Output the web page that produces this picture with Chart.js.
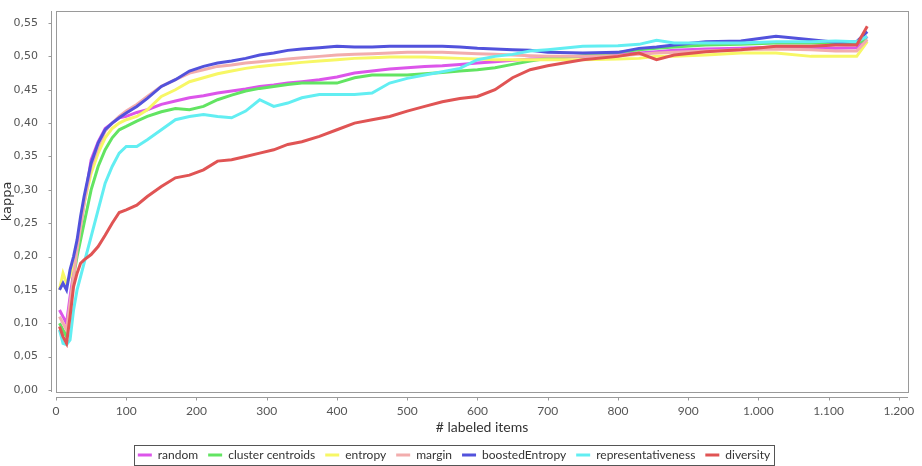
<!DOCTYPE html>
<html>
<head>
<meta charset="utf-8">
<script src="https://cdn.jsdelivr.net/npm/chart.js@4.4.1/dist/chart.umd.min.js"></script>
<style>
  html, body { margin: 0; padding: 0; background: #fff; }
</style>
</head>
<body>
<canvas id="chart" width="922" height="466"></canvas>
<script>
// x positions (# labeled items) shared by all series
const labeledItems = [5, 10, 15, 20, 25, 30, 35, 40, 50, 60, 70, 80, 90, 100, 115, 130, 150, 170, 190, 210,
  230, 250, 270, 290, 310, 330, 350, 375, 400, 425, 450, 475, 500, 525, 550, 575, 600, 625, 650, 675,
  700, 750, 800, 830, 855, 880, 925, 975, 1025, 1075, 1110, 1140, 1155];

const random = [0.12, 0.11, 0.10, 0.14, 0.176, 0.21, 0.245, 0.28, 0.345, 0.372, 0.392, 0.40, 0.408, 0.41, 0.416, 0.42, 0.428, 0.433, 0.438, 0.441,
  0.445, 0.448, 0.451, 0.455, 0.457, 0.46, 0.462, 0.465, 0.469, 0.475, 0.478, 0.481, 0.483, 0.485, 0.486, 0.488, 0.49, 0.492, 0.494, 0.496,
  0.497, 0.50, 0.503, 0.505, 0.507, 0.509, 0.511, 0.512, 0.514, 0.513, 0.512, 0.513, 0.53];

const clusterCentroids = [0.10, 0.09, 0.08, 0.12, 0.17, 0.20, 0.225, 0.25, 0.30, 0.335, 0.36, 0.378, 0.39, 0.395, 0.403, 0.41, 0.417, 0.422, 0.42, 0.425,
  0.435, 0.442, 0.448, 0.452, 0.455, 0.458, 0.46, 0.46, 0.46, 0.468, 0.472, 0.472, 0.472, 0.474, 0.476, 0.478, 0.48, 0.483, 0.488, 0.493,
  0.497, 0.501, 0.506, 0.51, 0.512, 0.514, 0.517, 0.518, 0.52, 0.52, 0.52, 0.52, 0.525];

const entropy = [0.15, 0.175, 0.16, 0.17, 0.19, 0.215, 0.25, 0.28, 0.325, 0.355, 0.378, 0.392, 0.40, 0.405, 0.41, 0.42, 0.44, 0.45, 0.462, 0.468,
  0.474, 0.478, 0.482, 0.485, 0.487, 0.489, 0.491, 0.493, 0.495, 0.497, 0.498, 0.499, 0.499, 0.499, 0.498, 0.497, 0.496, 0.495, 0.495, 0.495,
  0.495, 0.495, 0.496, 0.497, 0.50, 0.50, 0.502, 0.505, 0.505, 0.50, 0.50, 0.50, 0.522];

const margin = [0.11, 0.10, 0.09, 0.13, 0.17, 0.21, 0.245, 0.28, 0.335, 0.365, 0.388, 0.40, 0.41, 0.418, 0.428, 0.44, 0.455, 0.465, 0.475, 0.48,
  0.485, 0.487, 0.49, 0.492, 0.494, 0.496, 0.498, 0.50, 0.502, 0.503, 0.504, 0.505, 0.506, 0.506, 0.506, 0.505, 0.504, 0.503, 0.502, 0.501,
  0.50, 0.50, 0.501, 0.503, 0.505, 0.506, 0.508, 0.51, 0.511, 0.51, 0.508, 0.508, 0.525];

const boostedEntropy = [0.15, 0.16, 0.15, 0.18, 0.20, 0.225, 0.26, 0.29, 0.34, 0.37, 0.39, 0.40, 0.408, 0.415, 0.425, 0.437, 0.455, 0.465, 0.478, 0.485,
  0.49, 0.493, 0.497, 0.502, 0.505, 0.509, 0.511, 0.513, 0.515, 0.514, 0.514, 0.515, 0.515, 0.515, 0.515, 0.514, 0.512, 0.511, 0.51, 0.509,
  0.506, 0.505, 0.506, 0.512, 0.514, 0.517, 0.522, 0.523, 0.53, 0.525, 0.521, 0.522, 0.537];

const representativeness = [0.09, 0.07, 0.068, 0.075, 0.12, 0.15, 0.17, 0.19, 0.23, 0.27, 0.31, 0.335, 0.355, 0.365, 0.365, 0.375, 0.39, 0.405, 0.41, 0.413,
  0.41, 0.408, 0.418, 0.435, 0.425, 0.43, 0.438, 0.443, 0.443, 0.443, 0.445, 0.46, 0.467, 0.472, 0.477, 0.482, 0.495, 0.50, 0.503, 0.508,
  0.51, 0.515, 0.516, 0.518, 0.524, 0.52, 0.52, 0.52, 0.522, 0.522, 0.523, 0.522, 0.53];

const diversity = [0.095, 0.08, 0.07, 0.11, 0.155, 0.175, 0.19, 0.195, 0.203, 0.215, 0.232, 0.25, 0.266, 0.27, 0.277, 0.29, 0.305, 0.318, 0.322, 0.33,
  0.343, 0.345, 0.35, 0.355, 0.36, 0.368, 0.372, 0.38, 0.39, 0.40, 0.405, 0.41, 0.418, 0.425, 0.432, 0.437, 0.44, 0.45, 0.468, 0.48,
  0.486, 0.495, 0.50, 0.505, 0.495, 0.502, 0.507, 0.51, 0.515, 0.515, 0.517, 0.517, 0.545];

const seriesNames = ['random', 'cluster centroids', 'entropy', 'margin', 'boostedEntropy', 'representativeness', 'diversity'];
const seriesValues = [random, clusterCentroids, entropy, margin, boostedEntropy, representativeness, diversity];
const seriesColors = ['#dc55ea', '#62e462', '#f7f765', '#f2adad', '#5252dc', '#62eef2', '#e05454'];

const xTicks = [0, 100, 200, 300, 400, 500, 600, 700, 800, 900, 1000, 1100, 1200];
const xTickLabels = ['0', '100', '200', '300', '400', '500', '600', '700', '800', '900', '1.000', '1.100', '1.200'];
const yTicks = [0, 0.05, 0.10, 0.15, 0.20, 0.25, 0.30, 0.35, 0.40, 0.45, 0.50, 0.55];

const datasets = seriesNames.map((name, i) => ({
  label: name,
  data: labeledItems.map((x, j) => ({ x: x, y: seriesValues[i][j] })),
  borderColor: seriesColors[i],
  backgroundColor: seriesColors[i],
  borderWidth: 3,
  pointRadius: 0,
  tension: 0,
  order: seriesNames.length - i // later series drawn on top
}));

// plot box, offset axis lines and the border round the legend
const framePlugin = {
  id: 'frame',
  afterInit(chart) {
    const fit = chart.legend.fit;
    chart.legend.fit = function () {
      fit.call(this);
      this.height -= 5;
    };
  },
  afterDraw(chart) {
    const ctx = chart.ctx;
    const a = chart.chartArea;
    ctx.save();
    ctx.strokeStyle = '#9a9a9a';
    ctx.lineWidth = 1;
    ctx.strokeRect(a.left + 0.5, a.top + 0.5, a.right - a.left, a.bottom - a.top);

    const ax = a.left - 4.5;
    ctx.beginPath();
    ctx.moveTo(ax, a.top);
    ctx.lineTo(ax, a.bottom);
    yTicks.forEach(v => {
      const y = Math.round(chart.scales.y.getPixelForValue(v)) + 0.5;
      ctx.moveTo(ax - 3, y);
      ctx.lineTo(ax, y);
    });
    const ay = a.bottom + 5.5;
    ctx.moveTo(a.left, ay);
    ctx.lineTo(a.right, ay);
    xTicks.forEach(v => {
      const x = Math.round(chart.scales.x.getPixelForValue(v)) + 0.5;
      ctx.moveTo(x, ay);
      ctx.lineTo(x, ay + 3);
    });
    ctx.stroke();

    const boxes = chart.legend.legendHitBoxes;
    if (boxes && boxes.length) {
      const left = Math.min(...boxes.map(b => b.left)) - 4;
      const right = Math.max(...boxes.map(b => b.left + b.width)) + 4;
      const top = Math.min(...boxes.map(b => b.top)) - 4;
      const bottom = Math.max(...boxes.map(b => b.top + b.height)) + 4;
      ctx.strokeStyle = '#555';
      ctx.strokeRect(Math.round(left) + 0.5, Math.round(top) + 0.5, Math.round(right - left), Math.round(bottom - top));
    }
    ctx.restore();
  }
};

new Chart(document.getElementById('chart'), {
  type: 'line',
  data: { datasets: datasets },
  options: {
    responsive: false,
    animation: false,
    devicePixelRatio: 1,
    layout: { padding: { top: 11, right: 14, left: 0, bottom: 0 } },
    plugins: {
      tooltip: { enabled: false },
      legend: {
        position: 'bottom',
        labels: {
          usePointStyle: true,
          pointStyle: 'line',
          pointStyleWidth: 14,
          padding: 10,
          color: '#333',
          font: { family: 'Lato', size: 12 },
          sort: (a, b) => a.datasetIndex - b.datasetIndex
        }
      }
    },
    scales: {
      x: {
        type: 'linear',
        min: 0,
        max: 1213,
        afterFit: scale => { scale.height = 47; },
        afterBuildTicks: scale => { scale.ticks = xTicks.map(v => ({ value: v })); },
        grid: { display: false },
        border: { display: false },
        ticks: {
          autoSkip: false,
          maxRotation: 0,
          padding: 4,
          color: '#555',
          font: { family: 'Lato', size: 12 },
          callback: (value, index) => xTickLabels[index]
        },
        title: {
          display: true,
          text: '# labeled items',
          color: '#333',
          font: { family: 'Lato', size: 14 },
          padding: { top: 0, bottom: 3 }
        }
      },
      y: {
        min: -0.003,
        max: 0.568,
        afterFit: scale => {
          scale.width = 56;
          scale.paddingTop = 0;
          scale.paddingBottom = 0;
        },
        afterBuildTicks: scale => { scale.ticks = yTicks.map(v => ({ value: v })); },
        grid: { display: false },
        border: { display: false },
        ticks: {
          padding: 10,
          color: '#555',
          font: { family: 'DejaVu Sans', size: 11 },
          callback: value => value.toFixed(2).replace('.', ',')
        },
        title: {
          display: true,
          text: 'kappa',
          color: '#333',
          font: { family: 'DejaVu Sans', size: 13 },
          padding: 0
        }
      }
    }
  },
  plugins: [framePlugin]
});
</script>
</body>
</html>
